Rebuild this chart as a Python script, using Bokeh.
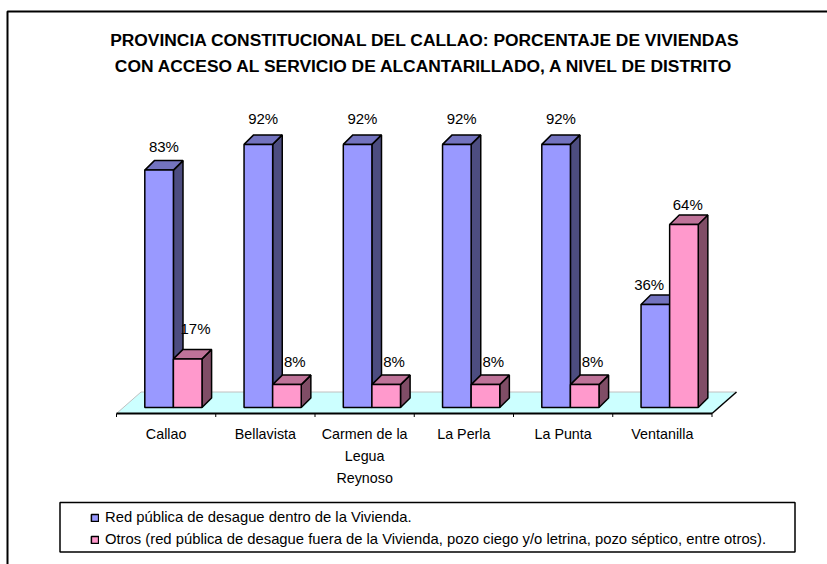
from bokeh.plotting import figure
from bokeh.embed import file_html
from bokeh.resources import INLINE
from bokeh.models import Range1d, Legend, LegendItem
from bokeh.core.properties import value

title_lines = ["PROVINCIA CONSTITUCIONAL DEL CALLAO: PORCENTAJE DE VIVIENDAS",
               "CON ACCESO AL SERVICIO DE ALCANTARILLADO, A NIVEL DE DISTRITO"]
categories = ["Callao", "Bellavista", "Carmen de la\nLegua\nReynoso", "La Perla", "La Punta", "Ventanilla"]
red_publica = [83, 92, 92, 92, 92, 36]
otros = [17, 8, 8, 8, 8, 64]
legend_labels = ["Red pública de desague dentro de la Vivienda.",
                 "Otros (red pública de desague fuera de la Vivienda, pozo ciego y/o letrina, pozo séptico, entre otros)."]

W, H = 827, 564
PX = 99.25      # pixels per category
PY = 2.86       # pixels per percent
X0, Y0 = 116, 407   # position of the origin in the figure
FONT = "Liberation Sans"

BLUE, BLUE_TOP, BLUE_SIDE = "#9999FF", "#7373BF", "#4D4D80"
PINK, PINK_TOP, PINK_SIDE = "#FF99CC", "#BF7399", "#804D66"

def dxp(px):
    return (px - X0) / PX

def dyp(py):
    return (Y0 - py) / PY

p = figure(width=W, height=H, output_backend="svg", toolbar_location=None,
           x_range=Range1d(dxp(0), dxp(W)), y_range=Range1d(dyp(H), dyp(0)),
           min_border=0, outline_line_color=None)
p.xaxis.visible = False
p.yaxis.visible = False
p.grid.visible = False

# chart-area frame (runs off the right and bottom of the picture)
p.line([dxp(7), dxp(7), dxp(W + 5)], [dyp(H + 5), dyp(11), dyp(11)], line_color="black", line_width=2)

n = len(categories)
bw = 28.6 / PX
start = 28.3 / PX
dx, dy = 9.6 / PX, 9.5 / PY
axis_y = -6 / PY
floor_dx, floor_dy = 24.5 / PX, 21.5 / PY

# floor
p.patch([0, floor_dx, n + floor_dx, n],
        [axis_y, axis_y + floor_dy, axis_y + floor_dy, axis_y],
        fill_color="#CCFFFF", line_color=None)
p.line([0, floor_dx, n + floor_dx], [axis_y, axis_y + floor_dy, axis_y + floor_dy],
       line_color="#C0C0C0", line_width=1)
p.line([n, n + floor_dx], [axis_y, axis_y + floor_dy], line_color="black", line_width=1.5)

# axis line and ticks
tick = 3.5 / PY
p.segment([0], [axis_y], [n], [axis_y], line_color="black", line_width=2)
p.segment(list(range(n + 1)), [axis_y] * (n + 1), list(range(n + 1)), [axis_y - tick] * (n + 1),
          line_color="black", line_width=1)

def bars(values, offset, front, top, side):
    left = [i + start + offset for i in range(n)]
    right = [x + bw for x in left]
    side_x = [[r, r + dx, r + dx, r] for r in right]
    side_y = [[0, dy, v + dy, v] for v in values]
    top_x = [[l, l + dx, r + dx, r] for l, r in zip(left, right)]
    top_y = [[v, v + dy, v + dy, v] for v in values]
    p.patches(side_x, side_y, fill_color=side, line_color="black", line_width=1.5)
    p.patches(top_x, top_y, fill_color=top, line_color="black", line_width=1.5)
    return p.quad(left=left, right=right, bottom=0, top=values,
                  fill_color=front, line_color="black", line_width=1.5), left

r1, left1 = bars(red_publica, 0, BLUE, BLUE_TOP, BLUE_SIDE)
r2, left2 = bars(otros, bw, PINK, PINK_TOP, PINK_SIDE)

# data labels, with the small nudges the original's labels have
label_gap = 15 / PY
def labels(values, left, nudge_x, nudge_y):
    p.text([l + bw / 2 + dx / 2 for l in left], [v + dy + label_gap for v in values],
           text=[f"{v}%" for v in values], text_align="center", text_baseline="middle",
           x_offset=nudge_x, y_offset=nudge_y,
           text_font=value(FONT), text_font_size="15px", text_color="black")
labels(red_publica, left1, [0, 0, 0, 0, 0, -11], [1, -1.5, -1.5, -1.5, -1.5, 4.5])
labels(otros, left2, [3, 3, 3, 3, 3, -1], [-5.5, 1.5, 1.5, 1.5, 1.5, 4.5])

# category labels
p.text([i + 0.5 for i in range(n)], [axis_y - 12 / PY] * n, text=categories,
       text_align="center", text_baseline="top", text_font=value(FONT),
       text_font_size="14.3px", text_color="black", text_line_height=1.4)

# title
p.text([dxp(424.5)] * 2, [dyp(39.5), dyp(65.5)], text=title_lines,
       text_align="center", text_baseline="middle", text_font=value(FONT),
       text_font_style="bold", text_font_size="17.4px", text_color="black")

# legend box
p.quad(left=[dxp(59.5)], right=[dxp(794.5)], top=[dyp(502)], bottom=[dyp(551.5)],
       fill_color="white", line_color="black", line_width=1.5)

legend = Legend(items=[LegendItem(label=value(legend_labels[0]), renderers=[r1]),
                       LegendItem(label=value(legend_labels[1]), renderers=[r2])],
                location=(90, 17), orientation="vertical", margin=0, padding=3, spacing=6,
                glyph_width=9, glyph_height=9, label_height=15, label_standoff=6,
                label_text_font=FONT, label_text_font_size="14.8px", label_text_color="black",
                border_line_color=None, background_fill_color=None)
p.add_layout(legend, "center")

open("out.html", "w").write(file_html(p, INLINE))
